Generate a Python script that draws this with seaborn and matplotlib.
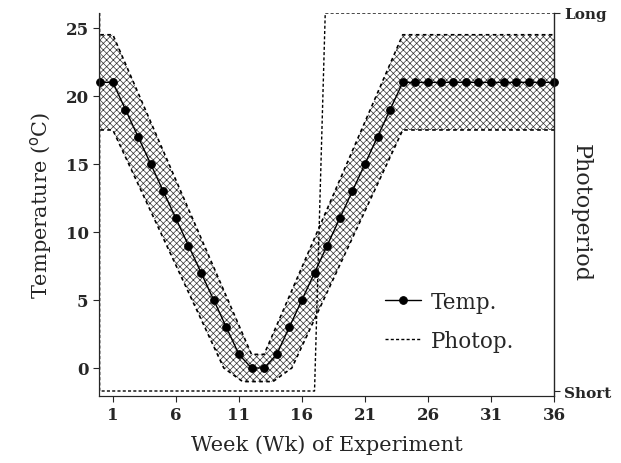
import numpy as np
import pandas as pd
import matplotlib
matplotlib.use("Agg")
import matplotlib.pyplot as plt
import seaborn as sns

# ---- data ----
weeks = list(range(0, 37))
temp = [21, 21, 19, 17, 15, 13, 11, 9, 7, 5, 3, 1, 0, 0, 1, 3, 5, 7, 9, 11,
        13, 15, 17, 19, 21, 21, 21, 21, 21, 21, 21, 21, 21, 21, 21, 21, 21]
band_upper_wk = [0, 1, 12, 13, 24, 36]
band_upper = [24.5, 24.5, 1, 1, 24.5, 24.5]
band_lower_wk = [0, 1, 9.8, 11.3, 13.7, 15.2, 24, 36]
band_lower = [17.5, 17.5, 0, -1, -1, 0, 17.5, 17.5]
photo_wk = [-0.05, -0.05, 17.0, 17.85, 36]
photo = [1, 0, 0, 1, 1]          # 0 = Short, 1 = Long
xticks = [1, 6, 11, 16, 21, 26, 31, 36]
yticks = [0, 5, 10, 15, 20, 25]

sns.set_style("ticks")
plt.rcParams['font.family'] = ['DejaVu Serif']
plt.rcParams['hatch.linewidth'] = 0.5
plt.rcParams['hatch.color'] = '#333333'

fig = plt.figure(figsize=(6.21, 4.64), dpi=100)
ax = fig.add_axes([99/621, 1-397/464, (554-99)/621, (397-14)/464])

# hatched band
poly_x = band_upper_wk + band_lower_wk[::-1]
poly_y = band_upper + band_lower[::-1]
ax.fill(poly_x, poly_y, facecolor='none', hatch='xxxxx', edgecolor='#333333', linewidth=0)
ax.plot(band_upper_wk, band_upper, ls=(0, (2.2, 2.0)), color='black', lw=1.2)
ax.plot(band_lower_wk, band_lower, ls=(0, (2.2, 2.0)), color='black', lw=1.2)

df = pd.DataFrame({'week': weeks, 'temp': temp})
sns.lineplot(data=df, x='week', y='temp', ax=ax, color='black', lw=1.0,
             marker='o', markersize=5.5, markeredgecolor='black', label='Temp.',
             clip_on=False, zorder=5)

ax.set_xlim(-0.1, 36)
ax.set_ylim(-2.06, 26.1)
ax.set_xticks(xticks)
ax.set_yticks(yticks)
ax.set_xlabel('Week (Wk) of Experiment', fontsize=15, labelpad=8)
ax.set_ylabel('Temperature ($^{\\mathrm{o}}$C)', fontsize=15, labelpad=8)
ax.tick_params(axis='both', labelsize=12, length=4, width=0.8, direction='out')
for lab in ax.get_xticklabels() + ax.get_yticklabels():
    lab.set_fontweight('bold')
ax.spines['top'].set_visible(False)
ax.spines['right'].set_visible(False)

ax2 = ax.twinx()
ax2.set_position(ax.get_position())
pdf = pd.DataFrame({'week': photo_wk, 'photo': photo})
ax2.plot(pdf['week'], pdf['photo'], ls=(0, (2.2, 1.6)), color='black', lw=1.0,
         label='Photop.')
ax2.set_ylim(-5/378, 1.0)
ax2.set_yticks([0, 1])
ax2.set_yticklabels(['Short', 'Long'], fontsize=11, fontweight='bold')
ax2.tick_params(axis='y', length=4, width=0.8, direction='out')
ax2.spines['top'].set_visible(False)
ax2.spines['right'].set_linewidth(1.0)
ax2.set_ylabel('Photoperiod', fontsize=16, rotation=270)
ax2.yaxis.set_label_coords(1.083, 0.48)
ax2.set_xlim(-0.1, 36)

h1, l1 = ax.get_legend_handles_labels()
h2, l2 = ax2.get_legend_handles_labels()
if ax.get_legend():
    ax.get_legend().remove()
leg = ax2.legend(h1 + h2, l1 + l2, loc='center left', bbox_to_anchor=(0.585, 0.195),
                 frameon=False, fontsize=15.5, handlelength=1.7, handletextpad=0.45,
                 labelspacing=0.8)

fig.savefig('out.png', dpi=100)
